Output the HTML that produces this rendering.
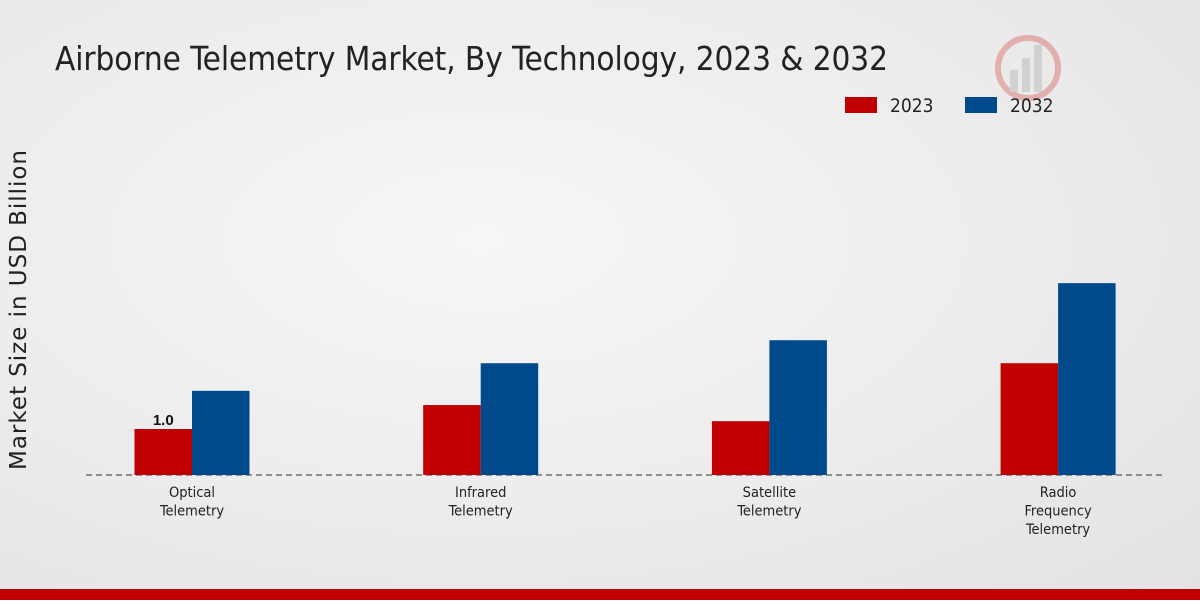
<!DOCTYPE html>
<html><head><meta charset="utf-8"><style>
body{margin:0;width:1200px;height:600px;overflow:hidden;font-family:"Liberation Sans","DejaVu Sans",sans-serif;}
#wrap{position:relative;width:1200px;height:600px;background:radial-gradient(ellipse at 40% 40%,#f6f6f6 0%,#ececec 55%,#e2e2e2 100%);}
</style></head><body>
<div id="wrap">
<svg id="chart" width="1200" height="600">
<text x="55" y="70" font-size="33" fill="#222" font-family="DejaVu Sans Condensed, DejaVu Sans, sans-serif" textLength="833">Airborne Telemetry Market, By Technology, 2023 &amp; 2032</text>
<g opacity="0.25">
<circle cx="1028" cy="68" r="30" fill="none" stroke="#c00" stroke-width="6"/>
<rect x="1010" y="70" width="8" height="22" fill="#888"/><rect x="1022" y="58" width="8" height="34" fill="#888"/><rect x="1034" y="45" width="8" height="47" fill="#888"/>
</g>
<g>
<rect x="845" y="97" width="32" height="16" fill="#c00000"/>
<text x="890" y="112" font-size="19" fill="#222" font-family="DejaVu Sans Condensed, DejaVu Sans, sans-serif">2023</text>
<rect x="965" y="97" width="32" height="16" fill="#004a8c"/>
<text x="1010" y="112" font-size="19" fill="#222" font-family="DejaVu Sans Condensed, DejaVu Sans, sans-serif">2032</text>
</g>
<text transform="translate(26,310) rotate(-90)" text-anchor="middle" font-size="23" fill="#222" font-family="DejaVu Sans, sans-serif" textLength="320">Market Size in USD Billion</text>
<line x1="86" y1="475" x2="1162" y2="475" stroke="#333" stroke-dasharray="6,4"/>
<g id="bars"></g>
<rect x="0" y="589" width="1200" height="11" fill="#c00000"/>
</svg>
</div>
<script>
const categories=[["Optical","Telemetry"],["Infrared","Telemetry"],["Satellite","Telemetry"],["Radio","Frequency","Telemetry"]];
const values2023=[1.0,1.52,1.17,2.43];
const values2032=[1.83,2.43,2.93,4.17];
const labels2023=["1.0",null,null,null];
const ns="http://www.w3.org/2000/svg";
const g=document.getElementById("bars");
const base=475,scale=46,x0=192,step=288.7,bw=57.5;
function y(v){return base-v*scale;}
function mk(t,a){const e=document.createElementNS(ns,t);for(const k in a)e.setAttribute(k,a[k]);g.appendChild(e);return e;}
categories.forEach((c,i)=>{
 const cx=x0+i*step;
 const r1=mk("rect",{x:cx-bw,y:y(values2023[i]),width:bw,height:base-y(values2023[i]),fill:"#c00000"});
 
 
 const r2=mk("rect",{x:cx,y:y(values2032[i]),width:bw,height:base-y(values2032[i]),fill:"#004a8c"});
 
 
 if(labels2023[i]){const t=mk("text",{x:cx-bw/2,y:y(values2023[i])-4,"text-anchor":"middle","font-size":"15","font-weight":"bold",fill:"#111"});t.textContent=labels2023[i];
 
 }
 c.forEach((l,j)=>{const t=mk("text",{x:cx,y:497+j*18.5,"text-anchor":"middle","font-size":"14.5",fill:"#222","font-family":"DejaVu Sans Condensed, DejaVu Sans, sans-serif"});t.textContent=l;
 
 });
});
</script>
</body></html>
